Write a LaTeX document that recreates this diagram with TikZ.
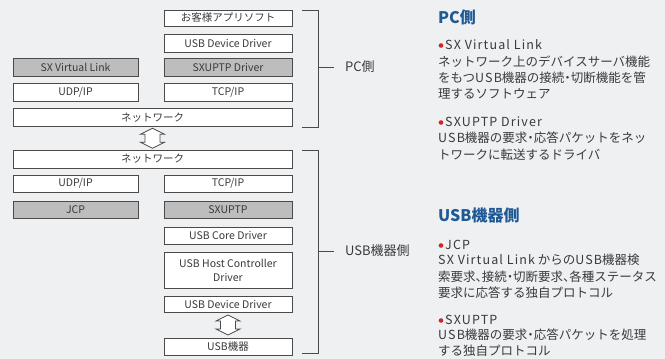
\documentclass[tikz,border=0pt]{standalone}
\usepackage{fontspec}
\setmainfont{Noto Sans CJK JP}
\newfontfamily\lspfont{Noto Sans CJK JP}[LetterSpace=9]
\newcommand\lsp[1]{{\lspfont #1}}
\newcommand\halfpunct{\addfontfeatures{RawFeature=+halt}}
\usetikzlibrary{calc}
\definecolor{bg}{HTML}{EEF0F1}
\definecolor{ink}{HTML}{3A3A3A}
\definecolor{edge}{HTML}{4A4A4A}
\definecolor{grayfill}{HTML}{BDBDBD}
\definecolor{headblue}{HTML}{1F5A96}
\definecolor{dotred}{HTML}{D2232A}
\tikzset{
  box/.style={draw=edge, line width=0.8pt, fill=white, text=ink, inner sep=0pt,
    font=\fontsize{10.5}{12}\selectfont, align=center, minimum height=18pt},
  narrow/.style={box, minimum width=125pt},
  wide/.style={box, minimum width=128pt},
  shade/.style={fill=grayfill},
  bracket/.style={draw=edge, line width=0.9pt},
  sidelabel/.style={anchor=west, text=ink, inner sep=0pt, font=\fontsize{13}{15}\selectfont},
  head/.style={anchor=west, text=headblue, inner sep=0pt, font=\fontsize{16}{18}\selectfont\bfseries},
  bul/.style={anchor=west, text=ink, inner sep=0pt, font=\fontsize{12.5}{15}\lspfont},
  body/.style={anchor=west, text=ink, inner sep=0pt, font=\fontsize{12.5}{15}\selectfont\halfpunct},
  dblarrow/.pic={
    \draw[edge, fill=white, line width=0.8pt, line join=miter]
      (0,-10) -- (12,-4) -- (7.5,-4) -- (7.5,4) -- (12,4) -- (0,10)
      -- (-12,4) -- (-7.5,4) -- (-7.5,-4) -- (-12,-4) -- cycle;
  }
}
\begin{document}
\begin{tikzpicture}[x=1pt, y=-1pt]
\useasboundingbox (0,0) rectangle (665,359);
\fill[bg] (0,0) rectangle (665,359);

% PC side stack
\node[wide, minimum height=16pt] (app) at (228,18) {お客様アプリソフト};
\node[wide] (usbdd1) at (228,43) {USB Device Driver};
\node[narrow, shade] (sxvl) at (75.5,67.5) {SX Virtual Link};
\node[wide, shade] (sxuptpd) at (228,67.5) {SXUPTP Driver};
\node[narrow] (udp1) at (75.5,92) {UDP/IP};
\node[wide] (tcp1) at (228,92) {TCP/IP};
\node[box, minimum width=279pt] (net1) at (152.5,117.5) {ネットワーク};

% USB side stack
\node[box, minimum width=279pt] (net2) at (152.5,159) {ネットワーク};
\node[narrow, minimum height=17pt] (udp2) at (75.5,183.5) {UDP/IP};
\node[wide, minimum height=17pt] (tcp2) at (228,183.5) {TCP/IP};
\node[narrow, shade, minimum height=17pt] (jcp) at (75.5,209.5) {JCP};
\node[wide, shade, minimum height=17pt] (sxuptp) at (228,209.5) {SXUPTP};
\node[wide, minimum height=17pt] (core) at (228,235.5) {USB Core Driver};
\node[wide, minimum height=36pt, font=\fontsize{10.5}{14}\selectfont] (hcd) at (228,270) {USB Host Controller\\Driver};
\node[wide, minimum height=16pt] (usbdd2) at (228,304) {USB Device Driver};
\node[wide, minimum height=17pt] (usbdev) at (228,346.5) {USB機器};

% double arrows
\pic at ($(net1.south)!0.5!(net2.north)$) {dblarrow};
\pic at ($(usbdd2.south)!0.5!(usbdev.north)$) {dblarrow};

% brackets
\coordinate (pcT) at (302,10);
\coordinate (pcB) at (302,127);
\coordinate (pcM) at (318,67);
\draw[bracket] (pcT) -- (318,10) -- (318,127) -- (pcB);
\draw[bracket] (pcM) -- (334,67);
\node[sidelabel] (pclab) at (345,67) {PC側};

\coordinate (usT) at (302,150);
\coordinate (usB) at (302,353);
\coordinate (usM) at (318,251);
\draw[bracket] (usT) -- (318,150) -- (318,353) -- (usB);
\draw[bracket] (usM) -- (334,251);
\node[sidelabel] (uslab) at (345,251) {USB機器側};

% right explanations: PC side
\node[head] (h1) at (438,17) {PC側};
\node[bul] (b1) at (445,45) {SX Virtual Link};
\fill[dotred] ($(b1.west)+(-4,0.5)$) circle (2.3pt);
\node[body] (t11) at (438,62) {ネットワーク上のデバイスサーバ機能};
\node[body] (t12) at (438,78) {をもつ\lsp{USB}機器の接続・切断機能を管};
\node[body] (t13) at (438,94) {理するソフトウェア};
\node[bul] (b2) at (445,122) {SXUPTP Driver};
\fill[dotred] ($(b2.west)+(-4,0.5)$) circle (2.3pt);
\node[body] (t21) at (438,138) {\lsp{USB}機器の要求・応答パケットをネッ};
\node[body] (t22) at (438,155) {トワークに転送するドライバ};

% right explanations: USB side
\node[head] (h2) at (438,215) {USB機器側};
\node[bul] (b3) at (445,245) {JCP};
\fill[dotred] ($(b3.west)+(-4,0.5)$) circle (2.3pt);
\node[body] (t31) at (438,260) {\lsp{SX Virtual Link} からの\lsp{USB}機器検};
\node[body] (t32) at (438,277) {索要求、接続・切断要求、各種ステータス};
\node[body] (t33) at (438,293) {要求に応答する独自プロトコル};
\node[bul] (b4) at (445,320) {SXUPTP};
\fill[dotred] ($(b4.west)+(-4,0.5)$) circle (2.3pt);
\node[body] (t41) at (438,335) {\lsp{USB}機器の要求・応答パケットを処理};
\node[body] (t42) at (438,351) {する独自プロトコル};
\end{tikzpicture}
\end{document}
